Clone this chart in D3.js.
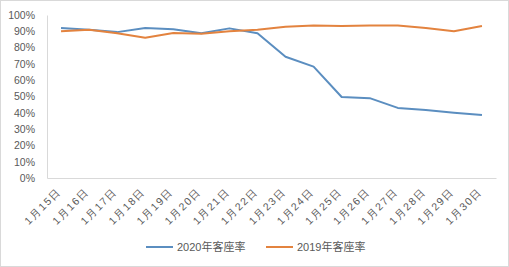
<!DOCTYPE html>
<html>
<head>
<meta charset="utf-8">
<script src="https://cdn.jsdelivr.net/npm/d3@7"></script>
<style>
  body { margin: 0; background: #fff; }
  svg { display: block; font-family: "Liberation Sans", "Noto Sans CJK SC", sans-serif; }
</style>
</head>
<body>
<svg id="chart" width="509" height="267"></svg>
<script>
// data
var days = ["1月15日","1月16日","1月17日","1月18日","1月19日","1月20日","1月21日","1月22日",
            "1月23日","1月24日","1月25日","1月26日","1月27日","1月28日","1月29日","1月30日"];
var rate2020 = [0.92, 0.91, 0.895, 0.92, 0.912, 0.888, 0.918, 0.888, 0.744, 0.683, 0.497, 0.49, 0.43, 0.417, 0.40, 0.386];
var rate2019 = [0.90, 0.91, 0.888, 0.86, 0.89, 0.885, 0.90, 0.91, 0.928, 0.935, 0.932, 0.936, 0.935, 0.92, 0.90, 0.932];
var yTicks = [0, 0.1, 0.2, 0.3, 0.4, 0.5, 0.6, 0.7, 0.8, 0.9, 1.0];
var seriesNames = ["2020年客座率", "2019年客座率"];
var colors = ["#5b8ec0", "#e3833f"];

var margin = {top: 15, right: 13, bottom: 89, left: 47};
var svg = d3.select("#chart");
var width = +svg.attr("width") - margin.left - margin.right;
var height = +svg.attr("height") - margin.top - margin.bottom;

// outer frame
svg.append("rect")
  .attr("x", 0.5).attr("y", 0.5)
  .attr("width", 508).attr("height", 266)
  .attr("fill", "#fff").attr("stroke", "#d9d9d9");

var g = svg.append("g").attr("transform", "translate(" + margin.left + "," + margin.top + ")");

var x = d3.scaleBand().domain(days).range([0, width]);
var y = d3.scaleLinear().domain([0, 1]).range([height, 0]);

// y axis
var yAxis = d3.axisLeft(y).tickValues(yTicks).tickFormat(d3.format(".0%")).tickSize(0).tickPadding(12);
g.append("g").call(yAxis)
  .call(function(s) { s.select(".domain").attr("stroke", "#d9d9d9"); })
  .selectAll("text").attr("fill", "#595959").attr("font-size", "10.5px");

// x axis
var xAxis = d3.axisBottom(x).tickSize(0).tickPadding(0);
var xg = g.append("g").attr("transform", "translate(0," + height + ")").call(xAxis);
xg.select(".domain").attr("stroke", "#d9d9d9");
xg.selectAll("text")
  .attr("fill", "#595959")
  .attr("font-size", "10.5px")
  .attr("letter-spacing", "1.5px")
  .attr("text-anchor", "end")
  .attr("dy", null)
  .attr("transform", "translate(1,14) rotate(-45)");

// lines
var line = d3.line()
  .x(function(d, i) { return x(days[i]) + x.bandwidth() / 2; })
  .y(function(d) { return y(d); });

[rate2020, rate2019].forEach(function(data, k) {
  g.append("path")
    .datum(data)
    .attr("fill", "none")
    .attr("stroke", colors[k])
    .attr("stroke-width", 2)
    .attr("stroke-linejoin", "round")
    .attr("d", line);
});

// legend
var legend = svg.append("g").attr("transform", "translate(146,247)");
var lx = [0, 120];
seriesNames.forEach(function(name, k) {
  var lg = legend.append("g").attr("transform", "translate(" + lx[k] + ",0)");
  lg.append("line").attr("x1", 0).attr("x2", 27).attr("y1", 0).attr("y2", 0)
    .attr("stroke", colors[k]).attr("stroke-width", 2);
  lg.append("text").attr("x", 31).attr("y", 4)
    .attr("fill", "#595959").attr("font-size", "11px")
    .text(name);
});
</script>
</body>
</html>
